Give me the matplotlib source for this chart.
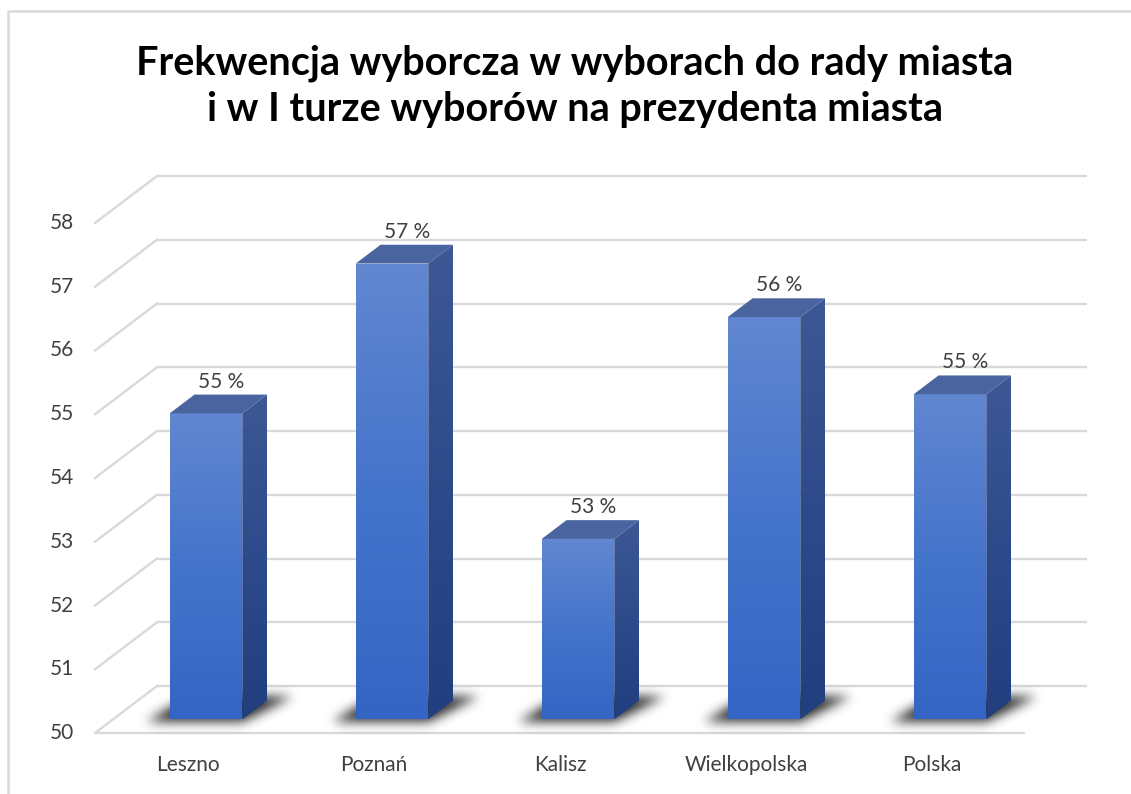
from __future__ import annotations

import matplotlib

matplotlib.use("Agg")
import matplotlib.pyplot as plt
import numpy as np
from matplotlib.colors import LinearSegmentedColormap
from matplotlib.lines import Line2D
from matplotlib.patches import Polygon
from matplotlib.path import Path


TITLE = "Frekwencja wyborcza w wyborach do rady miasta\ni w I turze wyborów na prezydenta miasta"
CATEGORIES = ["Leszno", "Poznań", "Kalisz", "Wielkopolska", "Polska"]
TURNOUT = [54.8, 57.15, 52.83, 56.31, 55.1]
Y_TICKS = [50, 51, 52, 53, 54, 55, 56, 57, 58]

# canvas / projection setup (pixels)
W, H = 1131, 794
FRONT_LEFT_PX, FRONT_RIGHT_PX = 95, 1025
Y_BASE_PX, Y_TOP_PX = 733, 223
DEPTH_PX = (62, 47)

CAT_PX = (FRONT_RIGHT_PX - FRONT_LEFT_PX) / len(CATEGORIES)
UNIT_PX = (Y_BASE_PX - Y_TOP_PX) / (Y_TICKS[-1] - Y_TICKS[0])
DX = DEPTH_PX[0] / CAT_PX
DY = DEPTH_PX[1] / UNIT_PX
BAR_W = 0.39
F0, F1 = 0.29, 0.69  # bar front / back depth fraction

GRID = "#D9D9D9"
TEXT = "#404040"
FRONT_CMAP = LinearSegmentedColormap.from_list("front", ["#3465C4", "#4574CB", "#6187D0"])
SIDE_CMAP = LinearSegmentedColormap.from_list("side", ["#213F7E", "#2D4A8A", "#3E5895"])
TOP_COLOR = "#4A64A0"

plt.rcParams["font.family"] = ["Lato", "DejaVu Sans"]


def proj(x: float, y: float, d: float) -> tuple[float, float]:
    return x + d * DX, y + d * DY


def gaussian_blur(img: np.ndarray, sigma: float) -> np.ndarray:
    r = int(3 * sigma)
    k = np.exp(-0.5 * (np.arange(-r, r + 1) / sigma) ** 2)
    k /= k.sum()
    img = np.apply_along_axis(lambda row: np.convolve(row, k, mode="same"), 1, img)
    return np.apply_along_axis(lambda col: np.convolve(col, k, mode="same"), 0, img)


def draw_walls(ax) -> None:
    x_left, x_right = -0.5, len(CATEGORIES) - 0.5
    for v in Y_TICKS:
        bx0, by = proj(x_left, v, 1)
        bx1, _ = proj(x_right, v, 1)
        ax.plot([bx0, bx1], [by, by], color=GRID, lw=1.7, solid_capstyle="butt", zorder=1)
        ax.plot([x_left, bx0], [v, by], color=GRID, lw=1.7, zorder=1)
        ax.annotate(str(v), (x_left, v), xytext=(-21, 0), textcoords="offset pixels",
                    ha="right", va="center", fontsize=15, color=TEXT)
    base = Y_TICKS[0]
    ax.plot([x_left, x_right], [base, base], color=GRID, lw=1.7, solid_capstyle="butt", zorder=1)


def draw_shadow(ax, i: float, base: float) -> None:
    # blurred floor shadow, skewed slightly flatter than the floor
    corners = [(-0.30, 0.23), (0.22, 0.23), (0.31, 0.77), (-0.25, 0.77)]
    pts = np.array([proj(i + dx, base, d) for dx, d in corners])
    pad_x, pad_y = 30 / CAT_PX, 30 / UNIT_PX
    x0, x1 = pts[:, 0].min() - pad_x, pts[:, 0].max() + pad_x
    y0, y1 = pts[:, 1].min() - pad_y, pts[:, 1].max() + pad_y
    nx = int((x1 - x0) * CAT_PX)
    ny = int((y1 - y0) * UNIT_PX)
    gx, gy = np.meshgrid(np.linspace(x0, x1, nx), np.linspace(y0, y1, ny))
    inside = Path(pts).contains_points(np.column_stack([gx.ravel(), gy.ravel()]))
    mask = gaussian_blur(inside.reshape(ny, nx).astype(float), 5.5)
    rgba = np.zeros((ny, nx, 4))
    rgba[..., 3] = np.clip(mask * 0.85, 0, 1)
    ax.imshow(rgba, origin="lower", extent=(x0, x1, y0, y1), aspect="auto",
              interpolation="bilinear", zorder=2)


def gradient_patch(ax, pts, cmap, bottom: float, top: float) -> None:
    poly = Polygon(pts, closed=True, facecolor="none", edgecolor="none", zorder=3)
    ax.add_patch(poly)
    xs = [p[0] for p in pts]
    grad = np.linspace(0, 1, 256).reshape(-1, 1)
    im = ax.imshow(grad, cmap=cmap, origin="lower", aspect="auto", interpolation="bilinear",
                   extent=(min(xs), max(xs), bottom, top), zorder=3)
    im.set_clip_path(poly)


def draw_bar(ax, i: float, value: float, base: float) -> None:
    x0, x1 = i - BAR_W / 2, i + BAR_W / 2
    front = [proj(x0, base, F0), proj(x1, base, F0), proj(x1, value, F0), proj(x0, value, F0)]
    side = [proj(x1, base, F0), proj(x1, base, F1), proj(x1, value, F1), proj(x1, value, F0)]
    top = [proj(x0, value, F0), proj(x1, value, F0), proj(x1, value, F1), proj(x0, value, F1)]

    gradient_patch(ax, front, FRONT_CMAP, base + F0 * DY, value + F0 * DY)
    gradient_patch(ax, side, SIDE_CMAP, base + F0 * DY, value + F1 * DY)
    ax.add_patch(Polygon(top, closed=True, facecolor=TOP_COLOR, edgecolor="none", zorder=4))

    lx = proj(i, value, F0)[0] + 0.6 * (F1 - F0) * DX
    ly = proj(i, value, F1)[1]
    ax.annotate(f"{value:.0f} %", (lx, ly), xytext=(0, 3), textcoords="offset pixels",
                ha="center", va="bottom", fontsize=15, color=TEXT)


def main() -> None:
    fig = plt.figure(figsize=(W / 100, H / 100), dpi=100)
    ax = fig.add_axes([0, 0, 1, 1])
    ax.set_xlim(-0.5 - FRONT_LEFT_PX / CAT_PX, -0.5 + (W - FRONT_LEFT_PX) / CAT_PX)
    ax.set_ylim(Y_TICKS[0] - (H - Y_BASE_PX) / UNIT_PX, Y_TICKS[0] + Y_BASE_PX / UNIT_PX)
    ax.axis("off")

    base = Y_TICKS[0]
    draw_walls(ax)
    for i, (name, value) in enumerate(zip(CATEGORIES, TURNOUT)):
        draw_shadow(ax, i, base)
        draw_bar(ax, i, value, base)
        ax.annotate(name, (i, base), xytext=(0, -32), textcoords="offset pixels",
                    ha="center", va="center", fontsize=15, color=TEXT)

    fig.text(575 / W, 1 - 86 / H, TITLE, ha="center", va="center", fontsize=28.5,
             fontweight="bold", color="black", linespacing=1.3)

    # outer chart frame (only top and left edges fall inside the canvas)
    fig.add_artist(Line2D([8 / W, 8 / W, 1], [0, 1 - 11 / H, 1 - 11 / H],
                          transform=fig.transFigure, color=GRID, lw=1.8))

    fig.savefig("out.png", dpi=100)
    plt.close(fig)


if __name__ == "__main__":
    main()
